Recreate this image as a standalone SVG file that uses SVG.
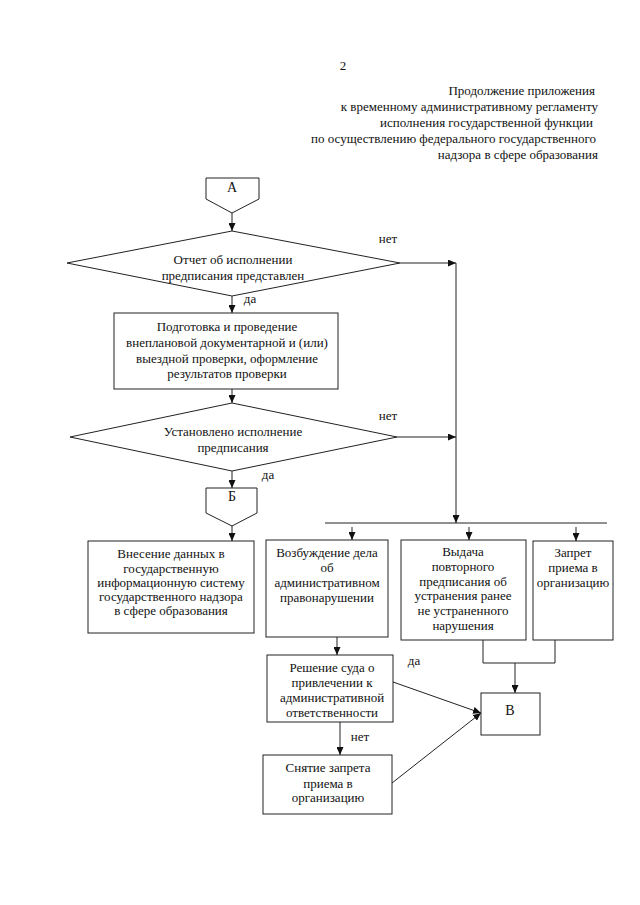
<svg xmlns="http://www.w3.org/2000/svg" width="640" height="905" viewBox="0 0 640 905">
<defs>
<marker id="arr" markerUnits="userSpaceOnUse" markerWidth="8" markerHeight="7" refX="8" refY="3.5" orient="auto">
<path d="M0,0 L8,3.5 L0,7 z" fill="#111"/>
</marker>
</defs>
<style>
text{font-family:"Liberation Serif","Times New Roman",serif;font-size:13px;fill:#111}
.c{text-anchor:middle}
.r{text-anchor:end}
.big{font-size:14px}
.shape{fill:#fff;stroke:#222;stroke-width:1}
.ln{fill:none;stroke:#222;stroke-width:1}
.ar{fill:none;stroke:#222;stroke-width:1;marker-end:url(#arr)}
</style>
<rect width="640" height="905" fill="#fff"/>
<g id="header">
<text x="343" y="70" class="c">2</text>
<text x="595" y="95" class="r">Продолжение приложения</text>
<text x="598" y="111" class="r">к временному административному регламенту</text>
<text x="593" y="127" class="r">исполнения государственной функции</text>
<text x="596" y="143" class="r">по осуществлению федерального государственного</text>
<text x="598" y="159" class="r">надзора в сфере образования</text>
</g>
<g id="nodeA">
<polygon class="shape" points="206,178 259,178 259,199 232,213 206,199"/>
<text x="232" y="192" class="c big">А</text>
</g>
<g id="decision1">
<polygon class="shape" points="232,231 400,263 232,296 67,263"/>
<text x="233" y="264" class="c">Отчет об исполнении</text>
<text x="233" y="280" class="c">предписания представлен</text>
</g>
<g id="check">
<rect class="shape" x="114" y="313" width="224" height="76"/>
<text x="227" y="331" class="c">Подготовка и проведение</text>
<text x="227" y="347" class="c">внеплановой документарной и (или)</text>
<text x="227" y="363" class="c">выездной проверки, оформление</text>
<text x="227" y="378" class="c">результатов проверки</text>
</g>
<g id="decision2">
<polygon class="shape" points="232,403 397,437 232,471 70,437"/>
<text x="233" y="436" class="c">Установлено исполнение</text>
<text x="233" y="452" class="c">предписания</text>
</g>
<g id="nodeB">
<polygon class="shape" points="206,488 257,488 257,513 232,526 206,513"/>
<text x="232" y="501" class="c big">Б</text>
</g>
<g id="register">
<rect class="shape" x="88" y="541" width="166" height="92"/>
<text x="171" y="558" class="c">Внесение данных в</text>
<text x="171" y="573" class="c">государственную</text>
<text x="171" y="587" class="c">информационную систему</text>
<text x="171" y="601" class="c">государственного надзора</text>
<text x="171" y="615" class="c">в сфере образования</text>
</g>
<g id="case">
<rect class="shape" x="266" y="540" width="122" height="97"/>
<text x="327" y="557" class="c">Возбуждение дела</text>
<text x="327" y="572" class="c">об</text>
<text x="327" y="587" class="c">административном</text>
<text x="327" y="602" class="c">правонарушении</text>
</g>
<g id="reissue">
<rect class="shape" x="401" y="540" width="125" height="100"/>
<text x="463" y="556" class="c">Выдача</text>
<text x="463" y="571" class="c">повторного</text>
<text x="463" y="586" class="c">предписания об</text>
<text x="463" y="600" class="c">устранения ранее</text>
<text x="463" y="615" class="c">не устраненного</text>
<text x="463" y="630" class="c">нарушения</text>
</g>
<g id="ban">
<rect class="shape" x="533" y="541" width="80" height="99"/>
<text x="573" y="557" class="c">Запрет</text>
<text x="573" y="572" class="c">приема в</text>
<text x="573" y="587" class="c">организацию</text>
</g>
<g id="court">
<rect class="shape" x="267" y="655" width="126" height="67"/>
<text x="332" y="672" class="c">Решение суда о</text>
<text x="332" y="687" class="c">привлечении к</text>
<text x="332" y="702" class="c">административной</text>
<text x="332" y="717" class="c">ответственности</text>
</g>
<g id="nodeV">
<rect class="shape" x="481" y="693" width="59" height="42"/>
<text x="510" y="715" class="c big">В</text>
</g>
<g id="lift">
<rect class="shape" x="263" y="755" width="129" height="59"/>
<text x="328" y="772" class="c">Снятие запрета</text>
<text x="328" y="788" class="c">приема в</text>
<text x="328" y="802" class="c">организацию</text>
</g>
<g id="connectors">
<line class="ar" x1="232" y1="213" x2="232" y2="231"/>
<line class="ar" x1="400" y1="263" x2="456" y2="263"/>
<line class="ar" x1="456" y1="263" x2="456" y2="523"/>
<line class="ar" x1="232" y1="296" x2="232" y2="313"/>
<line class="ar" x1="232" y1="389" x2="232" y2="403"/>
<line class="ar" x1="397" y1="437" x2="456" y2="437"/>
<line class="ar" x1="232" y1="471" x2="232" y2="488"/>
<line class="ar" x1="232" y1="526" x2="232" y2="541"/>
<line class="ln" x1="325" y1="523" x2="607" y2="523"/>
<line class="ar" x1="352" y1="527" x2="352" y2="540"/>
<line class="ar" x1="469" y1="527" x2="469" y2="540"/>
<line class="ar" x1="576" y1="527" x2="576" y2="541"/>
<line class="ar" x1="337" y1="637" x2="337" y2="655"/>
<polyline class="ln" points="483,640 483,663 555,663 555,640"/>
<line class="ar" x1="515" y1="663" x2="515" y2="693"/>
<line class="ar" x1="393" y1="682" x2="481" y2="713"/>
<line class="ar" x1="392" y1="783" x2="481" y2="713"/>
<line class="ar" x1="340" y1="722" x2="340" y2="755"/>
<text x="388" y="243" class="c">нет</text>
<text x="250" y="303" class="c">да</text>
<text x="388" y="420" class="c">нет</text>
<text x="268" y="479" class="c">да</text>
<text x="414" y="665" class="c">да</text>
<text x="360" y="741" class="c">нет</text>
</g>
</svg>
